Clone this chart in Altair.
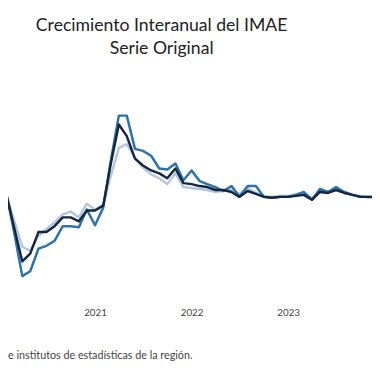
import altair as alt
import pandas as pd

# Monthly dates, Jan 2020 - Dec 2023
months = [
    "2020-01-01", "2020-02-01", "2020-03-01", "2020-04-01", "2020-05-01", "2020-06-01",
    "2020-07-01", "2020-08-01", "2020-09-01", "2020-10-01", "2020-11-01", "2020-12-01",
    "2021-01-01", "2021-02-01", "2021-03-01", "2021-04-01", "2021-05-01", "2021-06-01",
    "2021-07-01", "2021-08-01", "2021-09-01", "2021-10-01", "2021-11-01", "2021-12-01",
    "2022-01-01", "2022-02-01", "2022-03-01", "2022-04-01", "2022-05-01", "2022-06-01",
    "2022-07-01", "2022-08-01", "2022-09-01", "2022-10-01", "2022-11-01", "2022-12-01",
    "2023-01-01", "2023-02-01", "2023-03-01", "2023-04-01", "2023-05-01", "2023-06-01",
    "2023-07-01", "2023-08-01", "2023-09-01", "2023-10-01", "2023-11-01", "2023-12-01",
]

series_names = ["Serie A", "Serie B", "Serie C"]
series_colors = ["#b3c6dc", "#2c72ab", "#16263e"]

serie_a = [4.25, 3.5, -3, -9.75, -10.75, -7, -5.25, -3.5, -1.5, -0.75, -2.25, 1.25,
           -0.25, 1, 8.25, 15.5, 16.5, 13, 10.5, 8.75, 7.75, 6.25, 9, 5.5,
           5.25, 5, 4.75, 4.25, 4.5, 4.75, 3.75, 5.25, 4, 3.25, 3, 3.25,
           3.25, 3.75, 4, 2.75, 4.5, 4.25, 5.25, 4.25, 3.5, 3.25, 2.75, 3]

serie_b = [4.25, 3.75, -6, -17.25, -16, -10.25, -9.5, -8.25, -4.5, -4.5, -4.75, -0.25,
           -4.25, 0.25, 12, 23.75, 23.75, 15.25, 14.75, 13.5, 10.25, 10, 11.5, 7.25,
           9.75, 7, 6.25, 5.5, 4.5, 5.75, 3, 5.75, 5.75, 3, 2.75, 3,
           3, 3.5, 4.25, 2.25, 5, 4.25, 5.5, 4.25, 3.5, 3, 3, 3]

serie_c = [3.75, 3.5, -4.75, -13.5, -11.5, -6, -6, -4.5, -2.25, -2.25, -3.25, -0.5,
           -0.5, 0.75, 11.25, 21.5, 18.5, 12.75, 11, 9.75, 9, 7.75, 10.25, 6.5,
           6.25, 5.75, 5.5, 4.75, 4.75, 4.25, 3, 4.5, 3.75, 3, 2.75, 3,
           3, 3.25, 3.5, 2.25, 4.25, 4, 4.75, 4, 3.5, 3, 3, 3]

title_lines = ["Crecimiento Interanual del IMAE", "Serie Original"]
footer_text = "e institutos de estadísticas de la región."

rows = []
for name, vals in zip(series_names, [serie_a, serie_b, serie_c]):
    for d, v in zip(months, vals):
        rows.append({"fecha": d, "valor": v, "serie": name, "orden": series_names.index(name)})
df = pd.DataFrame(rows)

FONT = "Lato"

lines = alt.Chart(df).mark_line(strokeWidth=2.5, clip=True, strokeJoin="round").encode(
    x=alt.X(
        "fecha:T",
        scale=alt.Scale(domain=[alt.DateTime(year=2020, month=2, date=7),
                                alt.DateTime(year=2023, month=11, date=14)]),
        axis=alt.Axis(
            title=None, format="%Y", domain=False, ticks=False, grid=False,
            values=[alt.DateTime(year=2021, month=1, date=1),
                    alt.DateTime(year=2022, month=1, date=1),
                    alt.DateTime(year=2023, month=1, date=1)],
            labelFont=FONT, labelFontSize=10, labelColor="#444444", labelPadding=10,
        ),
    ),
    y=alt.Y("valor:Q", scale=alt.Scale(domain=[-22.75, 26], nice=False, zero=False), axis=None),
    color=alt.Color("serie:N", scale=alt.Scale(domain=series_names, range=series_colors), legend=None),
    order=alt.Order("orden:Q"),
    detail="serie:N",
)

footer = alt.Chart(pd.DataFrame({"t": [footer_text]})).mark_text(
    align="left", baseline="middle", font=FONT, fontSize=11, color="#444444"
).encode(text="t:N", x=alt.value(0), y=alt.value(255))

chart = alt.layer(lines, footer).properties(
    width=372,
    height=195,
    autosize=alt.AutoSizeParams(type="none"),
    padding={"left": 0, "top": 97, "right": 0, "bottom": 72},
    title=alt.TitleParams(
        title_lines, anchor="middle", dx=-29, offset=50, font=FONT, fontSize=18,
        fontWeight="normal", color="#222222", lineHeight=23,
    ),
).configure_view(stroke=None)

chart.save("out.html", embed_options={"renderer": "svg", "actions": False})
